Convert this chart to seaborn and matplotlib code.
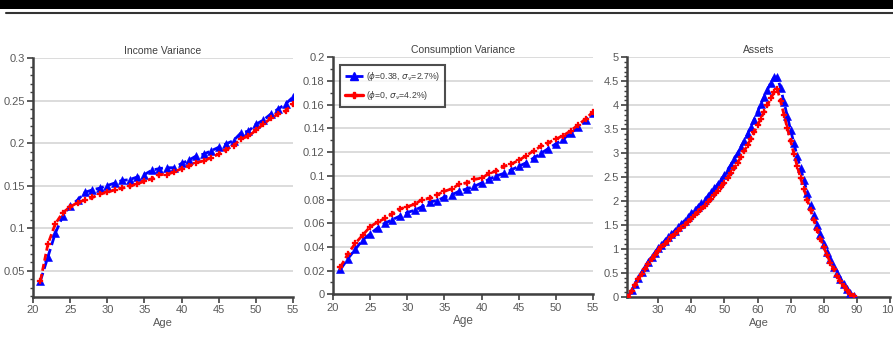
import numpy as np
import pandas as pd
import matplotlib
matplotlib.use("Agg")
import matplotlib.pyplot as plt
import seaborn as sns
from matplotlib.ticker import MultipleLocator
from matplotlib.lines import Line2D
from matplotlib.patches import Rectangle

# ---------------- data ----------------
ages_work = list(range(21, 56))

income_var_blue = [0.038, 0.066, 0.094, 0.114, 0.126, 0.133, 0.142, 0.145, 0.147, 0.150,
                   0.153, 0.156, 0.157, 0.160, 0.163, 0.168, 0.170, 0.171, 0.171, 0.176,
                   0.180, 0.185, 0.187, 0.191, 0.195, 0.199, 0.203, 0.212, 0.214, 0.222,
                   0.227, 0.234, 0.240, 0.246, 0.254]
income_var_red = [0.038, 0.081, 0.105, 0.118, 0.125, 0.130, 0.133, 0.136, 0.140, 0.142,
                  0.145, 0.147, 0.149, 0.152, 0.155, 0.158, 0.163, 0.163, 0.166, 0.170,
                  0.173, 0.177, 0.179, 0.183, 0.187, 0.192, 0.197, 0.205, 0.208, 0.215,
                  0.222, 0.229, 0.234, 0.238, 0.246]

cons_var_blue = [0.021, 0.030, 0.038, 0.046, 0.051, 0.056, 0.060, 0.063, 0.066, 0.069,
                 0.071, 0.074, 0.078, 0.079, 0.082, 0.084, 0.087, 0.089, 0.091, 0.094,
                 0.097, 0.100, 0.102, 0.105, 0.108, 0.111, 0.115, 0.119, 0.123, 0.127,
                 0.131, 0.136, 0.141, 0.147, 0.153]
cons_var_red = [0.023, 0.034, 0.043, 0.050, 0.057, 0.061, 0.064, 0.068, 0.072, 0.074,
                0.076, 0.080, 0.081, 0.084, 0.087, 0.089, 0.093, 0.094, 0.097, 0.098,
                0.102, 0.104, 0.108, 0.110, 0.113, 0.117, 0.121, 0.125, 0.128, 0.131,
                0.134, 0.138, 0.143, 0.148, 0.154]

ages_life = list(range(21, 90))
assets_blue = [0.00, 0.13, 0.26, 0.39, 0.51, 0.62, 0.73, 0.83, 0.92, 1.01,
               1.09, 1.17, 1.24, 1.31, 1.38, 1.45, 1.52, 1.59, 1.66, 1.74,
               1.81, 1.88, 1.95, 2.02, 2.10, 2.18, 2.26, 2.35, 2.44, 2.54,
               2.65, 2.76, 2.88, 3.00, 3.13, 3.26, 3.40, 3.55, 3.70, 3.86,
               4.02, 4.17, 4.32, 4.47, 4.58, 4.59, 4.35, 4.06, 3.77, 3.48,
               3.20, 2.93, 2.68, 2.44, 2.17, 1.92, 1.70, 1.49, 1.30, 1.11,
               0.94, 0.78, 0.63, 0.49, 0.37, 0.26, 0.16, 0.08, 0.02]
assets_red = [0.00, 0.12, 0.24, 0.36, 0.47, 0.58, 0.68, 0.78, 0.87, 0.95,
              1.03, 1.10, 1.17, 1.24, 1.30, 1.37, 1.44, 1.50, 1.57, 1.63,
              1.70, 1.76, 1.83, 1.90, 1.97, 2.05, 2.12, 2.20, 2.29, 2.38,
              2.48, 2.58, 2.69, 2.80, 2.92, 3.04, 3.17, 3.30, 3.44, 3.58,
              3.72, 3.86, 4.00, 4.14, 4.27, 4.33, 4.08, 3.80, 3.52, 3.25,
              2.98, 2.72, 2.48, 2.25, 2.03, 1.81, 1.60, 1.40, 1.21, 1.03,
              0.87, 0.71, 0.57, 0.44, 0.32, 0.22, 0.13, 0.06, 0.01]

label_blue = r"($\phi$=0.38, $\sigma_{\nu}$=2.7%)"
label_red = r"($\phi$=0, $\sigma_{\nu}$=4.2%)"

titles = ["Income Variance", "Consumption Variance", "Assets"]

# ---------------- style ----------------
sns.set_theme(style="white")
plt.rcParams["font.family"] = ["Liberation Sans", "DejaVu Sans"]
plt.rcParams["mathtext.fontset"] = "dejavusans"

fig = plt.figure(figsize=(8.93, 3.64), dpi=100)

axes_pos = [
    [33 / 893, 1 - 297 / 364, 260 / 893, 239 / 364],
    [333 / 893, 1 - 294.3 / 364, 260 / 893, 237 / 364],
    [627 / 893, 1 - 296.7 / 364, 263 / 893, 239.4 / 364],
]
axs = [fig.add_axes(p) for p in axes_pos]

BLUE = "#0000ff"
RED = "#ff0000"
AXC = "#404040"
TXT = "#595959"


def draw(ax, x, yb, yr, ms_b=5.2, ms_r=4.6):
    db = pd.DataFrame({"Age": x, "v": yb})
    dr = pd.DataFrame({"Age": x, "v": yr})
    sns.lineplot(data=db, x="Age", y="v", ax=ax, color=BLUE, marker="^",
                 markersize=ms_b, markeredgecolor=BLUE, markeredgewidth=0.4,
                 linewidth=2.0, dashes=False, linestyle=(0, (3, 1.5)), zorder=3)
    sns.lineplot(data=dr, x="Age", y="v", ax=ax, color=RED, marker="P",
                 markersize=ms_r, markeredgecolor=RED, markeredgewidth=0.2,
                 linewidth=2.0, dashes=False, linestyle=(0, (2.5, 1.2)), zorder=4)


draw(axs[0], ages_work, income_var_blue, income_var_red)
draw(axs[1], ages_work, cons_var_blue, cons_var_red)
draw(axs[2], ages_life, assets_blue, assets_red, ms_b=5.2, ms_r=4.4)

axs[0].set_xlim(20, 55)
axs[0].set_ylim(0.019, 0.3)
axs[0].xaxis.set_major_locator(MultipleLocator(5))
axs[0].set_yticks([0.05, 0.1, 0.15, 0.2, 0.25, 0.3])
axs[0].set_yticklabels(["0.05", "0.1", "0.15", "0.2", "0.25", "0.3"])
axs[0].yaxis.set_minor_locator(MultipleLocator(0.01))

axs[1].set_xlim(20, 55)
axs[1].set_ylim(0, 0.2)
axs[1].xaxis.set_major_locator(MultipleLocator(5))
axs[1].set_yticks(np.arange(0, 0.201, 0.02))
axs[1].set_yticklabels(["0", "0.02", "0.04", "0.06", "0.08", "0.1", "0.12",
                        "0.14", "0.16", "0.18", "0.2"])
axs[1].yaxis.set_minor_locator(MultipleLocator(0.01))

axs[2].set_xlim(20.6, 100)
axs[2].set_ylim(0, 5)
axs[2].set_xticks([30, 40, 50, 60, 70, 80, 90, 100])
axs[2].set_yticks(np.arange(0, 5.01, 0.5))
axs[2].set_yticklabels(["0", "0.5", "1", "1.5", "2", "2.5", "3", "3.5", "4", "4.5", "5"])
axs[2].yaxis.set_minor_locator(MultipleLocator(0.1))

for i, ax in enumerate(axs):
    ax.set_title(titles[i], fontsize=7.5, color=AXC, pad=3)
    ax.set_xlabel("Age", fontsize=8.5 if i == 1 else 8, color=TXT, labelpad=2)
    ax.set_ylabel("")
    ax.grid(axis="y", color="#d9d9d9", linewidth=1.3)
    ax.grid(axis="x", visible=False)
    ax.set_axisbelow(True)
    for s in ["top", "right"]:
        ax.spines[s].set_visible(False)
    for s in ["left", "bottom"]:
        ax.spines[s].set_color(AXC)
        ax.spines[s].set_linewidth(1.8)
    ax.tick_params(axis="both", which="major", labelsize=8, labelcolor=TXT,
                   color=AXC, length=4, width=1.2, direction="out",
                   bottom=True, left=True, pad=2)
    ax.tick_params(axis="y", which="minor", color=AXC, length=2.5, width=1,
                   left=True, direction="out")
    if ax.get_legend() is not None:
        ax.get_legend().remove()

# legend in middle panel
handles = [
    Line2D([], [], color=BLUE, marker="^", markersize=5.5, linewidth=2.0,
           linestyle=(0, (2.5, 1.5))),
    Line2D([], [], color=RED, marker="P", markersize=5, linewidth=2.4,
           linestyle="-"),
]
leg = axs[1].legend(handles, [label_blue, label_red], loc="upper left",
                    bbox_to_anchor=(0.02, 0.975), fontsize=6.3, frameon=True,
                    fancybox=False, edgecolor="#222222", handlelength=2.1,
                    handletextpad=0.3, borderpad=0.55, labelspacing=0.75,
                    borderaxespad=0.2, labelcolor="#404040")
leg.get_frame().set_linewidth(1.5)

# top decorations
fig.add_artist(Rectangle((0, 1 - 8.5 / 364), 1, 8.5 / 364, transform=fig.transFigure,
                         facecolor="black", edgecolor="none"))
fig.add_artist(Line2D([6 / 893, 1], [1 - 12.5 / 364, 1 - 12.5 / 364],
                      transform=fig.transFigure, color="#333333", linewidth=1.5))

fig.savefig("out.png", dpi=100)
